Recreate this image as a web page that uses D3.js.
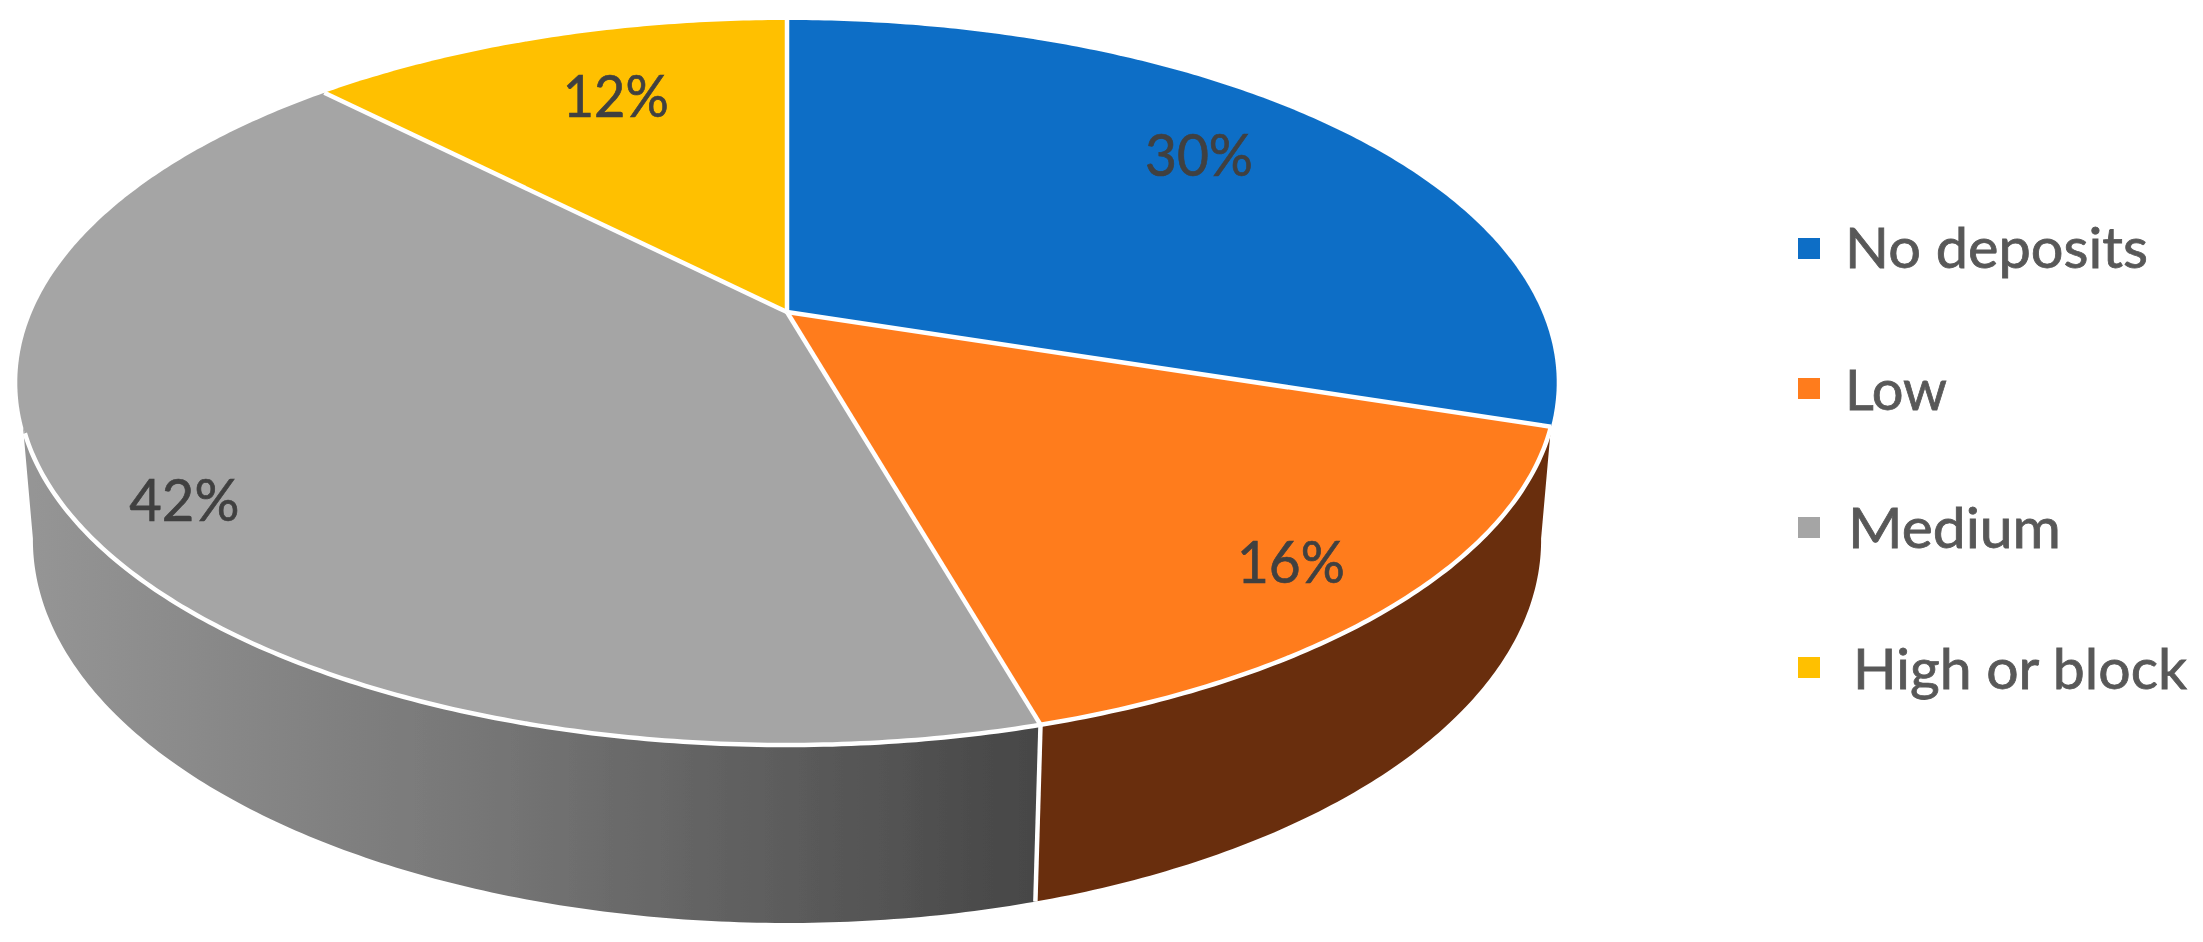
<!doctype html>
<html lang="en">

<head>
    <meta charset="utf-8" />
    <title>Deposits</title>
    <script src="https://d3js.org/d3.v7.min.js"></script>
    <style>
        html, body { margin: 0; background: #fff; overflow: hidden; }
        text { font-family: Lato, "Open Sans", sans-serif; }
    </style>
</head>

<body>
    <div id="chart"></div>

    <script>
        // values (labels round them)
        const categories = ["No deposits", "Low", "Medium", "High or block"];
        const shares = [30.0, 15.6, 42.1, 12.3];
        const colors = ["#0d6ec6", "#ff7c1f", "#a5a5a5", "#ffc000"];

        // label placement in the flat pie, radius as fraction and turn in degrees
        const labelRadius = [0.775, 0.86, 0.872, 0.749];
        const labelTurn = [-3.5, 1, -4, 2];
        const labelWidth = [108, 108, 110, 106];

        // legend layout
        const legendBoxY = [238, 378, 517, 657];
        const legendTextX = [1845, 1845, 1848, 1853];
        const legendBaseline = [268, 410, 548, 689];
        const legendWidth = [303, 102, 213, 334];

        const width = 2203, height = 942;
        const format = d3.format(".0%");

        // the tilted pie: a circle seen in perspective, top face and bottom rim
        const topFace = { cx: 787, cy: 312, rx: 755, ry: 348.8, p: -0.1945 };
        const bottomRim = { cx: 787, cy: 465.5, rx: 739.7, ry: 368.5, p: -0.1945 };

        function project(face, angle, r = 1) {
            const u = r * Math.sin(angle), v = -r * Math.cos(angle);
            const w = 1 + face.p * v;
            return [face.cx + face.rx * u / w, face.cy + face.ry * v / w];
        }

        function rim(face, a0, a1) {
            const n = Math.max(2, Math.ceil(Math.abs(a1 - a0) / 0.01));
            return d3.range(n + 1).map(i => project(face, a0 + (a1 - a0) * i / n));
        }

        const pie = d3.pie().sort(null).value(d => d)(shares);
        const line = d3.line();
        const rad = d => d * Math.PI / 180;

        const svg = d3.select("#chart").append("svg")
            .attr("width", width)
            .attr("height", height);

        const defs = svg.append("defs");
        defs.append("filter").attr("id", "soft")
            .append("feGaussianBlur").attr("stdDeviation", 0.7);

        const grad = defs.append("linearGradient")
            .attr("id", "graySide")
            .attr("gradientUnits", "userSpaceOnUse")
            .attr("x1", 33).attr("x2", 1040).attr("y1", 0).attr("y2", 0);
        grad.append("stop").attr("offset", 0).attr("stop-color", "#959595");
        grad.append("stop").attr("offset", 0.45).attr("stop-color", "#767676");
        grad.append("stop").attr("offset", 1).attr("stop-color", "#464646");

        const art = svg.append("g").attr("filter", "url(#soft)");

        // sides: only the front of the Low and Medium slices shows
        const lowSlice = pie[1], mediumSlice = pie[2];
        const sides = [
            { fill: "#692d0c", top: [lowSlice.startAngle, lowSlice.endAngle], bottom: [lowSlice.endAngle, rad(101)] },
            { fill: "url(#graySide)", top: [mediumSlice.startAngle, rad(252)], bottom: [rad(259), mediumSlice.startAngle] }
        ];

        art.selectAll("path.side")
            .data(sides)
            .join("path")
            .attr("class", "side")
            .attr("d", d => line(rim(topFace, d.top[0], d.top[1]).concat(rim(bottomRim, d.bottom[0], d.bottom[1]))) + "Z")
            .attr("fill", d => d.fill);

        // top face
        art.selectAll("path.slice")
            .data(pie)
            .join("path")
            .attr("class", "slice")
            .attr("d", d => line([project(topFace, 0, 0)].concat(rim(topFace, d.startAngle, d.endAngle))) + "Z")
            .attr("fill", (d, i) => colors[i]);

        // white seams: spokes, front rim, and the edge between the two sides
        const seams = pie.map(d => [project(topFace, 0, 0), project(topFace, d.startAngle)]);
        seams.push(rim(topFace, lowSlice.startAngle, rad(251)));
        seams.push([project(topFace, mediumSlice.startAngle), project(bottomRim, mediumSlice.startAngle)]);

        art.selectAll("path.seam")
            .data(seams)
            .join("path")
            .attr("class", "seam")
            .attr("d", line)
            .attr("fill", "none")
            .attr("stroke", "#fff")
            .attr("stroke-width", 4.5)
            .attr("stroke-linejoin", "round");

        // percent labels
        art.selectAll("text.pct")
            .data(pie)
            .join("text")
            .attr("class", "pct")
            .attr("transform", (d, i) => {
                const mid = (d.startAngle + d.endAngle) / 2 + rad(labelTurn[i]);
                const pos = project(topFace, mid, labelRadius[i]);
                return `translate(${pos[0]},${pos[1] + 21})`;
            })
            .attr("text-anchor", "middle")
            .attr("font-size", 58)
            .attr("fill", "#404040")
            .attr("stroke", "#404040")
            .attr("stroke-width", 0.7)
            .attr("textLength", (d, i) => labelWidth[i])
            .attr("lengthAdjust", "spacingAndGlyphs")
            .text(d => format(d.value / 100));

        // legend
        const legend = art.selectAll("g.legend")
            .data(categories)
            .join("g")
            .attr("class", "legend");

        legend.append("rect")
            .attr("x", 1798)
            .attr("y", (d, i) => legendBoxY[i])
            .attr("width", 22)
            .attr("height", 21)
            .attr("fill", (d, i) => colors[i]);

        legend.append("text")
            .attr("x", (d, i) => legendTextX[i])
            .attr("y", (d, i) => legendBaseline[i])
            .attr("font-size", 56)
            .attr("fill", "#595959")
            .attr("stroke", "#595959")
            .attr("stroke-width", 0.8)
            .attr("textLength", (d, i) => legendWidth[i])
            .attr("lengthAdjust", "spacingAndGlyphs")
            .text(d => d);
    </script>
</body>

</html>
